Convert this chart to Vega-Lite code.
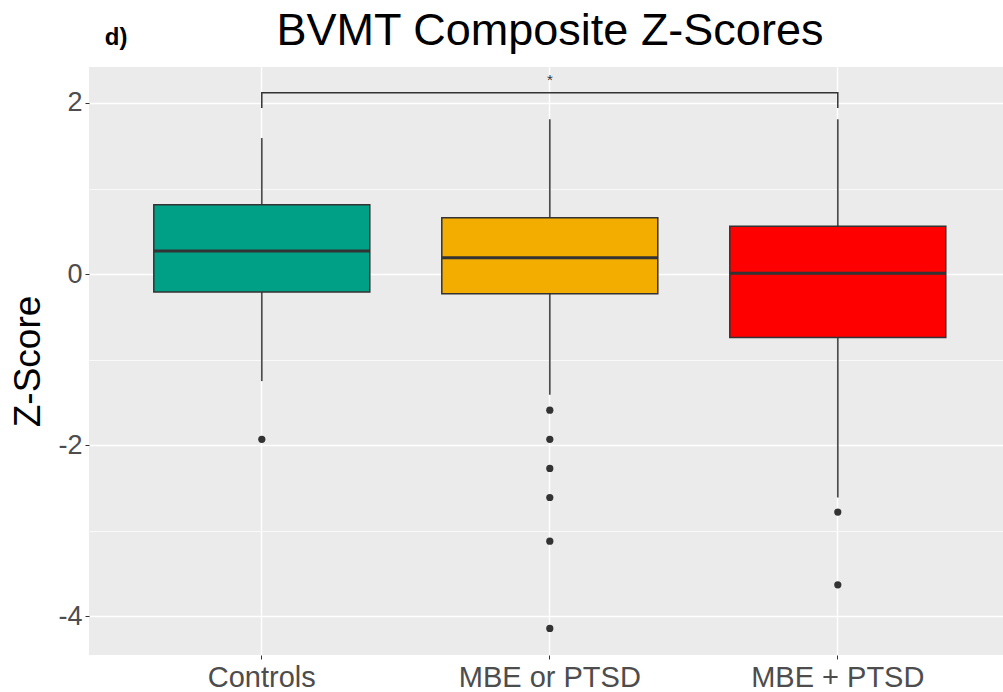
{
  "$schema": "https://vega.github.io/schema/vega-lite/v6.json",
  "width": 914,
  "height": 588,
  "autosize": {"type": "none"},
  "padding": {"left": 89, "top": 67, "right": 0, "bottom": 37},
  "background": "white",
  "config": {
    "font": "Liberation Sans",
    "view": {"fill": "#EBEBEB", "stroke": null}
  },
  "title": {
    "text": "BVMT Composite Z-Scores",
    "fontSize": 45,
    "fontWeight": "normal",
    "color": "black",
    "anchor": "middle",
    "frame": "group",
    "dx": 4,
    "offset": -64,
    "baseline": "alphabetic"
  },
  "datasets": {
    "boxes": [
      {"group": "Controls", "lower": -1.25, "q1": -0.21, "median": 0.27, "q3": 0.81, "upper": 1.59},
      {"group": "MBE or PTSD", "lower": -1.41, "q1": -0.23, "median": 0.19, "q3": 0.66, "upper": 1.81},
      {"group": "MBE + PTSD", "lower": -2.61, "q1": -0.74, "median": 0.01, "q3": 0.56, "upper": 1.81}
    ],
    "outliers": [
      {"group": "Controls", "z": -1.93},
      {"group": "MBE or PTSD", "z": -1.59},
      {"group": "MBE or PTSD", "z": -1.93},
      {"group": "MBE or PTSD", "z": -2.27},
      {"group": "MBE or PTSD", "z": -2.61},
      {"group": "MBE or PTSD", "z": -3.12},
      {"group": "MBE or PTSD", "z": -4.14},
      {"group": "MBE + PTSD", "z": -2.78},
      {"group": "MBE + PTSD", "z": -3.63}
    ],
    "bracket": [
      {"group": "Controls", "y": 1.94, "o": 1},
      {"group": "Controls", "y": 2.12, "o": 2},
      {"group": "MBE + PTSD", "y": 2.12, "o": 3},
      {"group": "MBE + PTSD", "y": 1.94, "o": 4}
    ],
    "sig": [
      {"group": "MBE or PTSD", "y": 2.12, "label": "*"}
    ],
    "panel": [
      {"group": "Controls", "y": 2.675, "label": "d)"}
    ]
  },
  "layer": [
    {
      "data": {"name": "boxes"},
      "mark": {"type": "rule", "color": "#4D4D4D", "strokeWidth": 1.7},
      "encoding": {
        "x": {
          "field": "group",
          "type": "nominal",
          "scale": {
            "type": "band",
            "domain": ["Controls", "MBE or PTSD", "MBE + PTSD"],
            "range": [0, 921.6],
            "paddingInner": 0.25,
            "paddingOuter": 0.225
          },
          "axis": {
            "title": null,
            "labelFontSize": 29,
            "labelColor": "#4D4D4D",
            "labelAngle": 0,
            "labelPadding": 4,
            "labelLimit": 400,
            "tickColor": "#333333",
            "tickSize": 4,
            "tickWidth": 1,
            "domain": false,
            "grid": true,
            "gridColor": "white",
            "gridWidth": 1.4,
            "bandPosition": 0.5
          }
        },
        "y": {
          "field": "lower",
          "type": "quantitative",
          "scale": {"domain": [-4.45, 2.42], "nice": false, "zero": false},
          "axis": {
            "values": [-4, -3, -2, -1, 0, 1, 2],
            "title": "Z-Score",
            "titleFontSize": 37,
            "titleFontWeight": "normal",
            "titleColor": "black",
            "titlePadding": 10,
            "labelFontSize": 27,
            "labelColor": "#4D4D4D",
            "labelPadding": 3,
            "labelExpr": "datum.value % 2 === 0 ? datum.value + '' : ''",
            "tickColor": "#333333",
            "tickSize": 4,
            "tickWidth": 1,
            "tickOpacity": {"condition": {"test": "datum.value % 2 === 0", "value": 1}, "value": 0},
            "domain": false,
            "grid": true,
            "gridColor": "white",
            "gridWidth": {"condition": {"test": "datum.value % 2 === 0", "value": 1.4}, "value": 0.7}
          }
        },
        "y2": {"field": "upper"}
      }
    },
    {
      "data": {"name": "boxes"},
      "mark": {"type": "bar", "stroke": "#333333", "strokeWidth": 1.5},
      "encoding": {
        "x": {"field": "group", "type": "nominal"},
        "y": {"field": "q1", "type": "quantitative"},
        "y2": {"field": "q3"},
        "color": {
          "field": "group",
          "type": "nominal",
          "scale": {
            "domain": ["Controls", "MBE or PTSD", "MBE + PTSD"],
            "range": ["#00A087", "#F2AD00", "#FF0000"]
          },
          "legend": null
        }
      }
    },
    {
      "data": {"name": "boxes"},
      "mark": {"type": "bar", "fillOpacity": 0, "stroke": "#333333", "strokeWidth": 3},
      "encoding": {
        "x": {"field": "group", "type": "nominal"},
        "y": {"field": "median", "type": "quantitative"},
        "y2": {"field": "median"}
      }
    },
    {
      "data": {"name": "outliers"},
      "mark": {"type": "circle", "color": "#333333", "opacity": 1, "size": 52},
      "encoding": {
        "x": {"field": "group", "type": "nominal"},
        "y": {"field": "z", "type": "quantitative"}
      }
    },
    {
      "data": {"name": "bracket"},
      "mark": {"type": "line", "color": "#333333", "strokeWidth": 1.5},
      "encoding": {
        "x": {"field": "group", "type": "nominal"},
        "y": {"field": "y", "type": "quantitative"},
        "order": {"field": "o", "type": "quantitative"}
      }
    },
    {
      "data": {"name": "sig"},
      "mark": {"type": "text", "fontSize": 15, "color": "#333333", "baseline": "alphabetic", "dy": -8},
      "encoding": {
        "x": {"field": "group", "type": "nominal"},
        "y": {"field": "y", "type": "quantitative"},
        "text": {"field": "label"}
      }
    },
    {
      "data": {"name": "panel"},
      "mark": {"type": "text", "fontSize": 24, "fontWeight": "bold", "color": "black", "baseline": "alphabetic", "align": "left", "dx": -157},
      "encoding": {
        "x": {"field": "group", "type": "nominal"},
        "y": {"field": "y", "type": "quantitative"},
        "text": {"field": "label"}
      }
    }
  ]
}
